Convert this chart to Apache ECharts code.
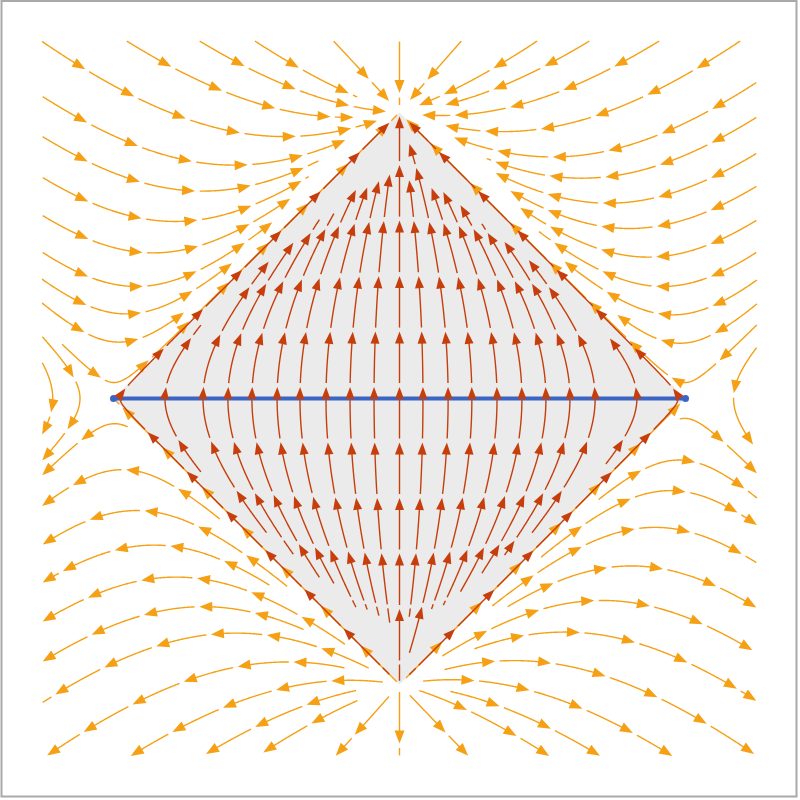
<!DOCTYPE html>
<html><head><meta charset="utf-8">
<script src="https://cdn.jsdelivr.net/npm/echarts/dist/echarts.min.js"></script>
<style>html,body{margin:0;padding:0;background:#fff}#c{width:800px;height:800px}</style>
</head><body><div id="c"></div>
<script>
// ---------- data ----------
const axisMin = -1.25, axisMax = 1.25;
const diamondX = [0, 1, 0, -1];
const diamondT = [1, 0, -1, 0];
const segmentX = [-1, 1];
const segmentT = [0, 0];
// where the inner (red) stream lines cross t = 0
const innerCrossX = [-0.977, -0.82, -0.687, -0.600, -0.516, -0.428, -0.348, -0.257, -0.173, -0.089, 0,
                     0.082, 0.17, 0.253, 0.341, 0.428, 0.512, 0.596, 0.684, 0.83, 0.974];
// seed points of the outer (orange) stream lines, in drawing order
const seedsSideWedges = [[-1.245,0.2115],[-1.245,0.117],[1.245,0.173]];
const seedsNearSeparatrix = [[-1.18,0.19],[1.18,0.19]];
const seedsSeparatrix = [[-0.5,-0.5],[0.5,-0.5],[0,1.245],[0,-1.245]];
const seedsUpperLeft = [[-1.245,1.245],[-0.946,1.245],[-0.691,1.245],[-0.498,1.245],[-1.245,1.054],[-1.245,0.914],
                        [-1.245,0.771],[-1.245,0.638],[-1.245,0.509],[-1.245,0.414],[-1.245,0.330]];
const seedsTopWedge = [[-0.226,1.245],[0.212,1.245]];
const seedsUpperRight = [[0.474,1.245],[0.656,1.245],[0.900,1.245],[1.184,1.245],[1.245,1.103],[1.245,0.981],
                         [1.245,0.855],[1.245,0.740],[1.245,0.621],[1.245,0.509],[1.245,0.411],[1.245,0.327]];
const seedsLowerLeft = [[-1.245,-0.264],[-1.245,-0.372],[-1.245,-0.509],[-1.245,-0.642],[-1.245,-0.778],[-1.245,-0.918],
                        [-1.245,-1.061],[-1.227,-1.245],[-0.932,-1.245],[-0.680,-1.245],[-0.488,-1.245]];
const seedsBottomWedge = [[-0.219,-1.245],[0.236,-1.245]];
const seedsLowerRight = [[1.245,-0.257],[1.245,-0.344],[1.245,-0.439],[1.245,-0.572],[1.245,-0.729],[1.245,-0.887],
                         [1.245,-1.055],[0.516,-1.245],[0.694,-1.245],[0.946,-1.245],[1.243,-1.245]];

// ---------- vector field (conformal Killing field of the causal diamond) ----------
function field(x, t) { return [-2 * t * x, 1 - t * t - x * x]; }
const fixedPts = [[0,1],[0,-1],[1,0],[-1,0]];

const ORANGE = '#f5a015', RED = '#c63e0c', FILL = '#ebebeb', BLUE = '#3c64c4';

function dirAt(x, t) {
  const v = field(x, t); const m = Math.hypot(v[0], v[1]);
  return m < 1e-9 ? null : [v[0] / m, v[1] / m];
}
function Occ(cell) { this.cell = cell; this.m = new Map(); }
Occ.prototype.add = function (p) {
  const k = Math.floor(p[0] / this.cell) + ',' + Math.floor(p[1] / this.cell);
  if (!this.m.has(k)) this.m.set(k, []); this.m.get(k).push(p);
};
Occ.prototype.near = function (x, t, d) {
  const i0 = Math.floor(x / this.cell), j0 = Math.floor(t / this.cell);
  for (let i = i0 - 1; i <= i0 + 1; i++) for (let j = j0 - 1; j <= j0 + 1; j++) {
    const a = this.m.get(i + ',' + j); if (!a) continue;
    for (const p of a) if (Math.hypot(p[0] - x, p[1] - t) < d) return true;
  }
  return false;
};
const H = 0.003, R_STOP = 0.012;
function traceDir(x, t, sgn, occ, dTest) {
  const pts = [];
  for (let n = 0; n < 4000; n++) {
    const k1 = dirAt(x, t); if (!k1) break;
    const k2 = dirAt(x + sgn * H / 2 * k1[0], t + sgn * H / 2 * k1[1]); if (!k2) break;
    const k3 = dirAt(x + sgn * H / 2 * k2[0], t + sgn * H / 2 * k2[1]); if (!k3) break;
    const k4 = dirAt(x + sgn * H * k3[0], t + sgn * H * k3[1]); if (!k4) break;
    const nx = x + sgn * H / 6 * (k1[0] + 2 * k2[0] + 2 * k3[0] + k4[0]);
    const nt = t + sgn * H / 6 * (k1[1] + 2 * k2[1] + 2 * k3[1] + k4[1]);
    if (Math.abs(nx) > 1.25 || Math.abs(nt) > 1.25) break;
    if (fixedPts.some(f => Math.hypot(nx - f[0], nt - f[1]) < R_STOP)) break;
    if (occ.near(nx, nt, dTest)) break;
    x = nx; t = nt; pts.push([x, t]);
  }
  return pts;
}
function traceLine(seed, occ, dTest) {
  if (occ.near(seed[0], seed[1], dTest)) return null;
  const b = traceDir(seed[0], seed[1], -1, occ, dTest).reverse();
  const f = traceDir(seed[0], seed[1], 1, occ, dTest);
  const pts = b.concat([seed], f);
  return { pts: pts, seedIndex: b.length };
}
function arcLen(pts) { const S = [0]; for (let i = 1; i < pts.length; i++) S.push(S[i - 1] + Math.hypot(pts[i][0] - pts[i - 1][0], pts[i][1] - pts[i - 1][1])); return S; }
function interp(pts, S, s) {
  let i = 1; while (i < S.length - 1 && S[i] < s) i++;
  const a = pts[i - 1], b = pts[i], d = S[i] - S[i - 1]; const r = d > 0 ? (s - S[i - 1]) / d : 0;
  return [a[0] + (b[0] - a[0]) * r, a[1] + (b[1] - a[1]) * r];
}
function slicePts(pts, S, s0, s1) {
  const out = [interp(pts, S, s0)];
  for (let i = 0; i < pts.length; i++) if (S[i] > s0 && S[i] < s1) out.push(pts[i]);
  out.push(interp(pts, S, s1)); return out;
}
const pieces = [];
function dash(pts, anchor, L, G, thr, style) {
  const S = arcLen(pts), total = S[S.length - 1], P = L + G;
  if (total < 0.03) return;
  const kmin = Math.ceil((0 - anchor) / P), kmax = Math.floor((total + L - anchor) / P);
  for (let k = kmin; k <= kmax; k++) {
    const e = anchor + k * P; const s0 = Math.max(0, e - L), s1 = Math.min(total, e);
    if (s1 - s0 < 0.01) continue;
    pieces.push({ pts: slicePts(pts, S, s0, s1), arrow: (s1 - s0) >= thr, style: style });
  }
}

// inner (red) lines
const occIn = new Occ(0.04);
const innerOrder = innerCrossX.slice().sort((a, b) => Math.abs(a) - Math.abs(b));
const biggest = innerOrder.splice(innerOrder.length - 2, 2);
innerOrder.splice(1, 0, ...biggest);
for (const x0 of innerOrder) {
  const ln = traceLine([x0, 0], occIn, 0.034);
  if (!ln) continue;
  ln.pts.forEach(p => occIn.add(p));
  const S = arcLen(ln.pts);
  dash(ln.pts, S[ln.seedIndex] + 0.04, 0.18, 0.014, 0.06, 'red');
}
// outer (orange) lines
const occOut = new Occ(0.04);
const outerSeeds = [].concat(seedsSideWedges, seedsNearSeparatrix, seedsSeparatrix, seedsUpperLeft, seedsTopWedge,
                             seedsUpperRight, seedsLowerLeft, seedsBottomWedge, seedsLowerRight);
for (const sd of outerSeeds) {
  const ln = traceLine(sd, occOut, 0.035);
  if (!ln) continue;
  ln.pts.forEach(p => occOut.add(p));
  dash(ln.pts, 0.18, 0.18, 0.016, 0.06, 'orange');
}
const orangeIdx = [], redIdx = [];
pieces.forEach((p, i) => { (p.style === 'red' ? redIdx : orangeIdx).push([p.pts[0][0], p.pts[0][1], i]); });

function makeRender(mode) {
  return function (params, api) {
    const p = pieces[api.value(2)];
    const col = p.style === 'red' ? RED : ORANGE;
    const AL = p.style === 'red' ? 12 : 13, AW = p.style === 'red' ? 4.5 : 5;
    let px = p.pts.map(q => api.coord(q));
    const children = [];
    if (p.arrow) {
      const tip = px[px.length - 1];
      let k = px.length - 2;
      while (k > 0 && Math.hypot(px[k][0] - tip[0], px[k][1] - tip[1]) < 6) k--;
      let dx = tip[0] - px[k][0], dy = tip[1] - px[k][1]; const d = Math.hypot(dx, dy) || 1; dx /= d; dy /= d;
      const base = [tip[0] - dx * AL, tip[1] - dy * AL];
      if (mode !== 'line') children.push({ type: 'polygon', shape: { points: [tip, [base[0] - dy * AW, base[1] + dx * AW], [base[0] + dy * AW, base[1] - dx * AW]] }, style: { fill: col } });
      const mid = [tip[0] - dx * AL * 0.6, tip[1] - dy * AL * 0.6];
      while (px.length > 1 && Math.hypot(px[px.length - 1][0] - tip[0], px[px.length - 1][1] - tip[1]) < AL * 0.6) px.pop();
      px.push(mid);
    }
    if (mode !== 'arrow') children.push({ type: 'polyline', shape: { points: px }, style: { stroke: col, lineWidth: 1.4, fill: null } });
    return { type: 'group', children: children };
  };
}

const chart = echarts.init(document.getElementById('c'), null, { renderer: 'canvas' });
chart.setOption({
  animation: false,
  backgroundColor: '#ffffff',
  grid: { left: 42, right: 43, top: 41, bottom: 44 },
  xAxis: { type: 'value', min: axisMin, max: axisMax, show: false },
  yAxis: { type: 'value', min: axisMin, max: axisMax, show: false },
  graphic: [{ type: 'rect', shape: { x: 1.5, y: 1, width: 795, height: 795.5 }, style: { fill: null, stroke: '#a9a9a9', lineWidth: 2 }, z: 100 }],
  series: [
    { type: 'custom', silent: true, z: 1, clip: false, data: [[0, 0]], encode: { x: 0, y: 1 },
      renderItem: function (params, api) {
        return { type: 'polygon', shape: { points: diamondX.map((x, i) => api.coord([x, diamondT[i]])) }, style: { fill: FILL } };
      } },
    { type: 'custom', silent: true, z: 2, clip: false, progressive: 0, data: orangeIdx, encode: { x: 0, y: 1 }, renderItem: makeRender('both') },
    { type: 'custom', silent: true, z: 3, clip: false, progressive: 0, data: redIdx, encode: { x: 0, y: 1 }, renderItem: makeRender('line') },
    { type: 'line', silent: true, z: 4, data: segmentX.map((x, i) => [x, segmentT[i]]), symbol: 'circle', symbolSize: 7, showSymbol: true,
      lineStyle: { color: BLUE, width: 4 }, itemStyle: { color: BLUE } },
    { type: 'custom', silent: true, z: 5, clip: false, progressive: 0, data: redIdx, encode: { x: 0, y: 1 }, renderItem: makeRender('arrow') }
  ]
});
</script></body></html>
